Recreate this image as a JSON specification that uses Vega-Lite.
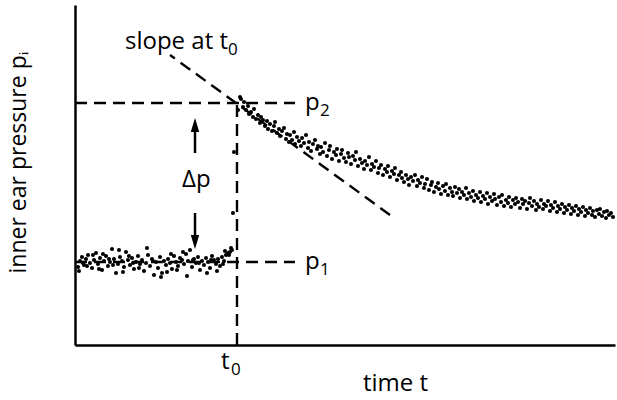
{
  "$schema": "https://vega.github.io/schema/vega-lite/v6.json",
  "width": 540,
  "height": 340,
  "autosize": {"type": "none"},
  "padding": {"left": 75, "top": 5, "right": 2, "bottom": 55},
  "background": "white",
  "config": {"view": {"stroke": null}, "font": "Open Sans"},
  "datasets": {
    "pts": [
      {"t":3,"p":78},{"t":5,"p":84},{"t":7,"p":88},{"t":9,"p":80},{"t":11,"p":86},{"t":13,"p":90},{"t":15,"p":82},{"t":17,"p":77},{"t":19,"p":85},{"t":21,"p":92},
      {"t":23,"p":81},{"t":25,"p":87},{"t":27,"p":75},{"t":29,"p":84},{"t":31,"p":89},{"t":33,"p":79},{"t":35,"p":83},{"t":37,"p":96},{"t":39,"p":86},{"t":41,"p":72},
      {"t":43,"p":81},{"t":45,"p":88},{"t":47,"p":84},{"t":49,"p":78},{"t":51,"p":93},{"t":53,"p":85},{"t":55,"p":80},{"t":57,"p":87},{"t":59,"p":76},{"t":61,"p":83},
      {"t":63,"p":89},{"t":65,"p":81},{"t":67,"p":85},{"t":69,"p":74},{"t":71,"p":82},{"t":73,"p":90},{"t":75,"p":79},{"t":77,"p":86},{"t":79,"p":70},{"t":81,"p":83},
      {"t":83,"p":77},{"t":85,"p":88},{"t":87,"p":72},{"t":89,"p":84},{"t":91,"p":80},{"t":93,"p":86},{"t":95,"p":82},{"t":97,"p":76},{"t":99,"p":89},{"t":101,"p":83},
      {"t":103,"p":79},{"t":105,"p":87},{"t":107,"p":85},{"t":109,"p":81},{"t":111,"p":91},{"t":113,"p":84},{"t":115,"p":95},{"t":117,"p":78},{"t":119,"p":86},{"t":121,"p":82},
      {"t":123,"p":88},{"t":125,"p":75},{"t":127,"p":84},{"t":129,"p":80},{"t":131,"p":87},{"t":133,"p":83},{"t":135,"p":77},{"t":137,"p":89},{"t":139,"p":85},{"t":141,"p":81},
      {"t":143,"p":86},{"t":145,"p":79},{"t":147,"p":88},{"t":149,"p":84},{"t":151,"p":90},{"t":153,"p":92},{"t":155,"p":93},{"t":157,"p":95},
      {"t":4,"p":74},{"t":8,"p":82},{"t":12,"p":79},{"t":18,"p":90},{"t":24,"p":76},{"t":28,"p":91},{"t":34,"p":86},{"t":38,"p":80},{"t":44,"p":95},{"t":48,"p":73},
      {"t":54,"p":89},{"t":58,"p":82},{"t":64,"p":77},{"t":72,"p":97},{"t":78,"p":84},{"t":86,"p":68},{"t":92,"p":73},{"t":96,"p":91},{"t":102,"p":75},{"t":108,"p":93},
      {"t":112,"p":69},{"t":118,"p":85},{"t":124,"p":82},{"t":132,"p":72},{"t":136,"p":85},{"t":142,"p":74},{"t":148,"p":81},{"t":150,"p":94},{"t":154,"p":90},{"t":156,"p":97},
      {"t":159,"p":193},{"t":158,"p":132},{"t":163,"p":235},{"t":165,"p":248},
      {"t":166,"p":246},{"t":168,"p":238},{"t":169,"p":243},{"t":171,"p":235},{"t":173,"p":239},{"t":174,"p":231},
      {"t":176,"p":233},{"t":178,"p":228},{"t":179,"p":236},{"t":181,"p":226},{"t":183,"p":230},
      {"t":185,"p":222},{"t":186,"p":228},{"t":188,"p":225},{"t":190,"p":219},{"t":192,"p":224},{"t":193,"p":216},
      {"t":195,"p":221},{"t":197,"p":214},{"t":199,"p":219},{"t":200,"p":223},{"t":202,"p":212},{"t":204,"p":216},
      {"t":205,"p":209},{"t":207,"p":214},{"t":209,"p":217},{"t":211,"p":206},{"t":212,"p":211},{"t":214,"p":203},
      {"t":215,"p":210},{"t":217,"p":205},{"t":219,"p":213},{"t":220,"p":201},{"t":222,"p":208},{"t":224,"p":204},
      {"t":226,"p":199},{"t":227,"p":207},{"t":229,"p":202},{"t":231,"p":210},{"t":233,"p":197},{"t":234,"p":203},
      {"t":236,"p":194},{"t":238,"p":201},{"t":240,"p":205},{"t":242,"p":196},{"t":243,"p":199},{"t":245,"p":191},
      {"t":246,"p":198},{"t":248,"p":193},{"t":250,"p":202},{"t":252,"p":189},{"t":254,"p":195},{"t":255,"p":199},
      {"t":257,"p":186},{"t":259,"p":193},{"t":261,"p":190},{"t":262,"p":196},{"t":264,"p":184},{"t":266,"p":191},
      {"t":267,"p":195},{"t":269,"p":187},{"t":271,"p":183},{"t":273,"p":192},{"t":274,"p":188},{"t":276,"p":181},
      {"t":278,"p":189},{"t":280,"p":185},{"t":281,"p":193},{"t":283,"p":179},{"t":285,"p":186},{"t":287,"p":182},
      {"t":289,"p":176},{"t":290,"p":184},{"t":292,"p":180},{"t":294,"p":188},{"t":296,"p":175},{"t":297,"p":181},
      {"t":299,"p":178},{"t":301,"p":184},{"t":303,"p":172},{"t":304,"p":177},{"t":306,"p":180},{"t":308,"p":170},
      {"t":310,"p":176},{"t":312,"p":173},{"t":313,"p":179},{"t":315,"p":168},{"t":317,"p":174},{"t":319,"p":171},
      {"t":320,"p":177},{"t":322,"p":165},{"t":324,"p":170},{"t":326,"p":173},{"t":327,"p":167},{"t":329,"p":163},
      {"t":331,"p":170},{"t":333,"p":166},{"t":334,"p":160},{"t":336,"p":168},{"t":338,"p":164},{"t":340,"p":170},
      {"t":342,"p":159},{"t":343,"p":165},{"t":345,"p":162},{"t":347,"p":168},{"t":349,"p":157},{"t":350,"p":161},
      {"t":352,"p":166},{"t":354,"p":155},{"t":356,"p":160},{"t":357,"p":163},{"t":359,"p":153},{"t":361,"p":158},
      {"t":363,"p":162},{"t":364,"p":156},{"t":366,"p":151},{"t":368,"p":159},{"t":370,"p":154},{"t":371,"p":161},
      {"t":373,"p":150},{"t":375,"p":157},{"t":377,"p":153},{"t":378,"p":149},{"t":380,"p":158},{"t":382,"p":152},
      {"t":384,"p":156},{"t":385,"p":147},{"t":387,"p":153},{"t":389,"p":150},{"t":391,"p":157},{"t":392,"p":146},
      {"t":394,"p":152},{"t":396,"p":148},{"t":398,"p":154},{"t":399,"p":144},{"t":401,"p":150},{"t":403,"p":147},
      {"t":405,"p":153},{"t":406,"p":143},{"t":408,"p":149},{"t":410,"p":146},{"t":412,"p":152},{"t":413,"p":141},
      {"t":415,"p":148},{"t":417,"p":144},{"t":419,"p":151},{"t":420,"p":146},{"t":422,"p":140},{"t":424,"p":148},
      {"t":426,"p":143},{"t":427,"p":150},{"t":429,"p":139},{"t":431,"p":145},{"t":433,"p":142},{"t":434,"p":148},
      {"t":436,"p":138},{"t":438,"p":145},{"t":440,"p":141},{"t":441,"p":147},{"t":443,"p":143},{"t":445,"p":137},
      {"t":447,"p":146},{"t":448,"p":141},{"t":450,"p":144},{"t":452,"p":136},{"t":454,"p":142},{"t":455,"p":147},
      {"t":457,"p":139},{"t":459,"p":144},{"t":461,"p":135},{"t":462,"p":141},{"t":464,"p":138},{"t":466,"p":145},
      {"t":468,"p":136},{"t":469,"p":141},{"t":471,"p":139},{"t":473,"p":144},{"t":475,"p":134},{"t":476,"p":140},
      {"t":478,"p":137},{"t":480,"p":143},{"t":482,"p":133},{"t":483,"p":139},{"t":485,"p":136},{"t":487,"p":141},
      {"t":489,"p":132},{"t":490,"p":138},{"t":492,"p":135},{"t":494,"p":140},{"t":496,"p":131},{"t":497,"p":137},
      {"t":499,"p":134},{"t":501,"p":139},{"t":503,"p":130},{"t":504,"p":136},{"t":506,"p":133},{"t":508,"p":138},
      {"t":510,"p":129},{"t":511,"p":135},{"t":513,"p":132},{"t":515,"p":137},{"t":517,"p":130},{"t":518,"p":134},
      {"t":520,"p":128},{"t":522,"p":135},{"t":524,"p":131},{"t":525,"p":136},{"t":527,"p":129},{"t":529,"p":133},
      {"t":531,"p":127},{"t":532,"p":134},{"t":534,"p":130},{"t":536,"p":132},{"t":538,"p":128}
    ],
    "lines": [
      {"id":"p2","t":0,"p":242},{"id":"p2","t":220,"p":242},
      {"id":"p1","t":0,"p":83},{"id":"p1","t":220,"p":83},
      {"id":"t0","t":162,"p":242},{"id":"t0","t":162,"p":0},
      {"id":"slope","t":95,"p":290},{"id":"slope","t":315,"p":130}
    ],
    "arrows": [
      {"dir":"up","t":120,"a":192,"b":222,"h":220},
      {"dir":"down","t":120,"a":132,"b":102,"h":103}
    ],
    "labels": [
      {"t":50,"p":303,"text":"slope at t"},
      {"t":230,"p":242,"text":"p"},
      {"t":230,"p":83,"text":"p"},
      {"t":107,"p":165,"text":"Δp"},
      {"t":146,"p":-17,"text":"t"}
    ],
    "subs": [
      {"t":153,"p":295,"text":"0"},
      {"t":245,"p":234,"text":"2"},
      {"t":245,"p":75,"text":"1"},
      {"t":156,"p":-25,"text":"0"}
    ]
  },
  "layer": [
    {
      "data": {"name": "lines"},
      "mark": {"type": "line", "color": "black", "strokeWidth": 2.4, "strokeDash": [12, 7]},
      "encoding": {
        "x": {"field": "t", "type": "quantitative", "scale": {"domain": [0, 540], "nice": false, "zero": false},
          "axis": {"labels": false, "ticks": false, "grid": false, "domainColor": "black", "domainWidth": 2.5,
            "title": "time t", "titleFontSize": 24, "titleFontWeight": "normal", "titleColor": "black", "titleFont": "Open Sans",
            "titleX": 320, "titleY": 26, "titleAnchor": "middle", "titleBaseline": "top"}},
        "y": {"field": "p", "type": "quantitative", "scale": {"domain": [0, 340], "nice": false, "zero": false},
          "axis": {"labels": false, "ticks": false, "grid": false, "domainColor": "black", "domainWidth": 2.5,
            "title": "inner ear pressure pᵢ", "titleFontSize": 23, "titleFontWeight": "normal", "titleColor": "black", "titleFont": "Open Sans",
            "titleAngle": -90, "titleX": -57, "titleY": 157, "titleAlign": "center", "titleBaseline": "middle"}},
        "detail": {"field": "id"},
        "order": {"field": "p"}
      }
    },
    {
      "data": {"name": "arrows"},
      "mark": {"type": "rule", "color": "black", "strokeWidth": 2.5},
      "encoding": {
        "x": {"field": "t", "type": "quantitative"},
        "y": {"field": "a", "type": "quantitative"},
        "y2": {"field": "b"}
      }
    },
    {
      "data": {"name": "arrows"},
      "mark": {"type": "point", "filled": true, "color": "black", "opacity": 1, "size": 200},
      "encoding": {
        "x": {"field": "t", "type": "quantitative"},
        "y": {"field": "h", "type": "quantitative"},
        "shape": {"field": "dir", "type": "nominal", "legend": null,
          "scale": {"domain": ["up", "down"], "range": ["M0,-1L0.6,1L-0.6,1Z", "M0,1L0.6,-1L-0.6,-1Z"]}}
      }
    },
    {
      "data": {"name": "pts"},
      "mark": {"type": "circle", "color": "black", "opacity": 1, "size": 17},
      "encoding": {
        "x": {"field": "t", "type": "quantitative"},
        "y": {"field": "p", "type": "quantitative"}
      }
    },
    {
      "data": {"name": "labels"},
      "mark": {"type": "text", "color": "black", "fontSize": 24, "font": "Open Sans", "align": "left", "baseline": "middle"},
      "encoding": {
        "x": {"field": "t", "type": "quantitative"},
        "y": {"field": "p", "type": "quantitative"},
        "text": {"field": "text"}
      }
    },
    {
      "data": {"name": "subs"},
      "mark": {"type": "text", "color": "black", "fontSize": 17, "font": "Open Sans", "align": "left", "baseline": "middle"},
      "encoding": {
        "x": {"field": "t", "type": "quantitative"},
        "y": {"field": "p", "type": "quantitative"},
        "text": {"field": "text"}
      }
    }
  ]
}
